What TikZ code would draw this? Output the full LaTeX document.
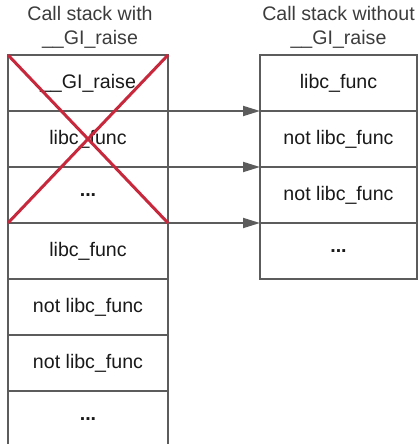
\documentclass[tikz,border=0pt]{standalone}
\usepackage{fontspec}
\setmainfont{Liberation Sans}
\usetikzlibrary{arrows.meta}

\definecolor{boxgray}{RGB}{92,92,92}
\definecolor{titlegray}{RGB}{60,60,60}
\definecolor{crossred}{RGB}{200,40,60}

\tikzset{
	cellbox/.style={rectangle, draw=boxgray, line width=2.5pt, minimum width=160pt, minimum height=56pt, inner sep=0pt, outer sep=0pt, text=black!90, font=\fontsize{19.6}{23.5}\selectfont},
	stacktitle/.style={align=center, inner sep=0pt, text=titlegray, font=\fontsize{19.6}{23.5}\selectfont},
	linkarrow/.style={-{Triangle[length=17pt, width=10pt]}, line width=1.8pt, color=boxgray},
	crossline/.style={line width=3pt, color=crossred}
}

\begin{document}
\begin{tikzpicture}[x=1pt, y=1pt]
	\useasboundingbox (0,0) rectangle (418,444);

	% titles
	\node[stacktitle](withtitle) at (90,416.5){Call stack with\\\_\_GI\_raise};
	\node[stacktitle](withouttitle) at (338.5,416.5){Call stack without\\\_\_GI\_raise};

	% stack with __GI_raise
	\node[cellbox](wone) at (88,361){\_\_GI\_raise};
	\node[cellbox](wtwo) at (88,305){libc\_func};
	\node[cellbox](wthree) at (88,249){\textbf{...}};
	\node[cellbox](wfour) at (88,193){libc\_func};
	\node[cellbox](wfive) at (88,137){not libc\_func};
	\node[cellbox](wsix) at (88,81){not libc\_func};
	\node[cellbox](wseven) at (88,25){\textbf{...}};

	% stack without __GI_raise
	\node[cellbox, minimum width=157pt](oone) at (338.5,361){libc\_func};
	\node[cellbox, minimum width=157pt](otwo) at (338.5,305){not libc\_func};
	\node[cellbox, minimum width=157pt](othree) at (338.5,249){not libc\_func};
	\node[cellbox, minimum width=157pt](ofour) at (338.5,193){\textbf{...}};

	% links
	\draw [linkarrow] (wone.south east) -- (oone.south west);
	\draw [linkarrow] (wtwo.south east) -- (otwo.south west);
	\draw [linkarrow] (wthree.south east) -- (othree.south west);

	% removed frames
	\draw [crossline] (wone.north west) -- (wthree.south east);
	\draw [crossline] (wone.north east) -- (wthree.south west);
\end{tikzpicture}
\end{document}
